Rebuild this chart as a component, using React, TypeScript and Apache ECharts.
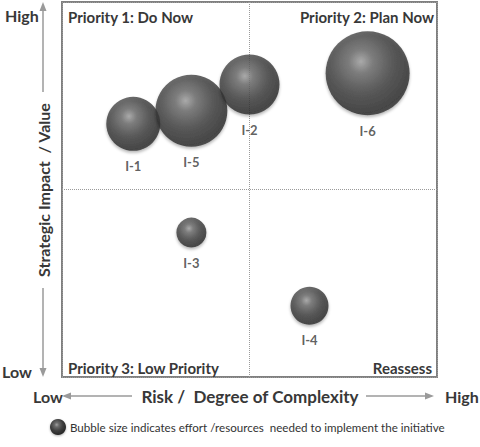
import React, { useEffect, useRef } from "react";
import * as echarts from "echarts";

const initiatives = ["I-1", "I-5", "I-2", "I-6", "I-3", "I-4"];
const riskValues = [1.9, 3.45, 5.0, 8.15, 3.45, 6.6];
const impactValues = [6.75, 7.1, 7.8, 8.1, 3.85, 1.9];
const effortValues = [5.4, 7.2, 6.0, 8.4, 3.0, 3.8];
const quadrantLabels = ["Priority 1: Do Now", "Priority 2: Plan Now", "Priority 3: Low Priority", "Reassess"];
const yAxisTitle = "Strategic Impact  / Value";
const xAxisTitle = "Risk /  Degree of Complexity";
const legendText = "Bubble size indicates effort /resources  needed to implement the initiative";

const FONT = "Lato";
const TXT = "#383838";
const ARROW = "#9a9a9a";

function ballFill() {
  return new echarts.graphic.RadialGradient(0.42, 0.36, 0.7, [
    { offset: 0, color: "#a0a0a0" },
    { offset: 0.2, color: "#6a6a6a" },
    { offset: 0.55, color: "#3e3e3e" },
    { offset: 0.88, color: "#282828" },
    { offset: 1, color: "#383838" },
  ]);
}

export default function App() {
  const ref = useRef<HTMLDivElement>(null);
  useEffect(() => {
    if (!ref.current) return;
    const chart = echarts.init(ref.current, null, { renderer: "svg" });
    const data = initiatives.map((n, i) => ({
      name: n,
      value: [riskValues[i], impactValues[i], effortValues[i]],
    }));
    const t = (text: string, x: number, y: number, extra: any = {}) => ({
      type: "text",
      x,
      y,
      style: {
        text,
        fill: TXT,
        font: `bold 15px ${FONT}`,
        verticalAlign: "middle",
        align: "left",
        ...extra,
      },
    });
    const line = (x1: number, y1: number, x2: number, y2: number) => ({
      type: "line",
      shape: { x1, y1, x2, y2 },
      style: { stroke: ARROW, lineWidth: 1.5 },
    });
    const head = (pts: number[][]) => ({
      type: "polygon",
      shape: { points: pts },
      style: { fill: ARROW },
    });
    chart.setOption({
      animation: false,
      grid: {
        left: 62,
        top: 2,
        width: 375,
        height: 375,
        show: true,
        borderColor: "#808080",
        borderWidth: 2,
      },
      xAxis: {
        type: "value",
        min: 0,
        max: 10,
        interval: 5,
        axisLine: { show: false },
        axisTick: { show: false },
        axisLabel: { show: false },
        splitLine: { show: true, lineStyle: { type: "dotted", color: "#9a9a9a", width: 1 } },
      },
      yAxis: {
        type: "value",
        min: 0,
        max: 10,
        interval: 5,
        axisLine: { show: false },
        axisTick: { show: false },
        axisLabel: { show: false },
        splitLine: { show: true, lineStyle: { type: "dotted", color: "#9a9a9a", width: 1 } },
      },
      series: [
        {
          type: "scatter",
          data,
          symbolSize: (v: number[]) => v[2] * 10,
          itemStyle: {
            color: ballFill(),
            shadowColor: "rgba(0,0,0,0.35)",
            shadowBlur: 3,
            shadowOffsetY: 2,
          },
          label: {
            show: true,
            position: "bottom",
            distance: 9,
            formatter: "{b}",
            fontFamily: FONT,
            fontSize: 13,
            fontWeight: "bold",
            color: TXT,
          },
        },
      ],
      graphic: [
        t(quadrantLabels[0], 68, 17),
        t(quadrantLabels[1], 434, 17, { align: "right" }),
        t(quadrantLabels[2], 68, 368),
        t(quadrantLabels[3], 432, 368, { align: "right" }),
        t("High", 5, 15, { font: `bold 16px ${FONT}` }),
        t("Low", 2, 371, { font: `bold 16px ${FONT}` }),
        line(43, 8, 43, 92),
        head([[43, 2], [39.5, 11], [46.5, 11]]),
        {
          type: "text",
          x: 43,
          y: 190,
          rotation: Math.PI / 2,
          style: {
            text: yAxisTitle,
            fill: TXT,
            font: `bold 16px ${FONT}`,
            align: "center",
            verticalAlign: "middle",
          },
        },
        line(43, 288, 43, 370),
        head([[43, 377], [39.5, 368], [46.5, 368]]),
        t("Low", 33, 396, { font: `bold 16px ${FONT}` }),
        line(68, 396, 132, 396),
        head([[62, 396], [71, 392.5], [71, 399.5]]),
        t(xAxisTitle, 250, 396, { font: `bold 17px ${FONT}`, align: "center" }),
        line(366, 396, 428, 396),
        head([[434, 396], [425, 392.5], [425, 399.5]]),
        t("High", 445, 396, { font: `bold 16px ${FONT}` }),
        {
          type: "circle",
          shape: { cx: 58, cy: 427, r: 8 },
          style: { fill: ballFill(), shadowColor: "rgba(0,0,0,0.3)", shadowBlur: 2, shadowOffsetY: 1 },
        },
        t(legendText, 70, 427, { font: `normal 11.6px ${FONT}`, fill: "#333" }),
      ],
    });
    return () => chart.dispose();
  }, []);
  return (
    <div
      ref={ref}
      style={{ position: "fixed", left: 0, top: 0, width: 480, height: 447, background: "#fff" }}
    />
  );
}
